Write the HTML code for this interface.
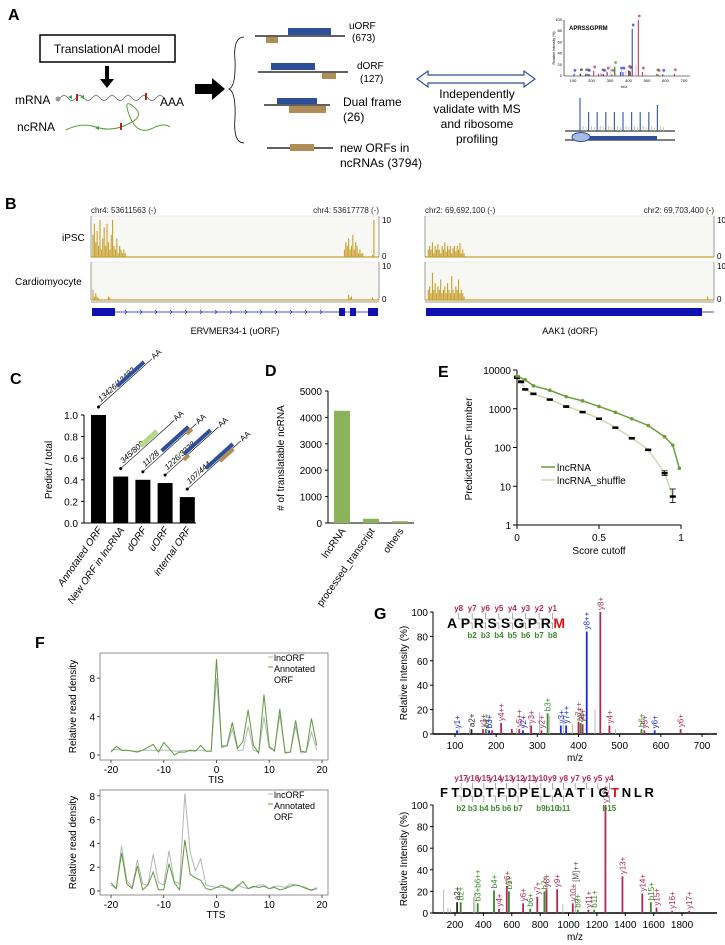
<!DOCTYPE html>
<html><head><meta charset="utf-8"><style>
body{margin:0;background:#fff}
svg text{font-family:"Liberation Sans",sans-serif}
</style></head><body>
<svg id="fig" xmlns="http://www.w3.org/2000/svg" width="725" height="940" viewBox="0 0 725 940">
<rect width="725" height="940" fill="#fff"/>
<!-- Panel A -->
<g>
<text x="8" y="20" font-size="16" font-weight="bold">A</text>
<rect x="40" y="35" width="135" height="27" fill="#fff" stroke="#000" stroke-width="1.5"/>
<text x="107" y="53" font-size="12" text-anchor="middle">TranslationAI model</text>
<path d="M107 66 V80" stroke="#000" stroke-width="4"/>
<path d="M100 79 L114 79 L107 88 Z" fill="#000"/>
<text x="15" y="104" font-size="12">mRNA</text>
<text x="17" y="131" font-size="12">ncRNA</text>
<circle cx="58" cy="99" r="2.5" fill="#999"/>
<path d="M60 98 q4 -5 8 0 t8 0 t8 0 t8 0 t8 0 t8 0 t8 0 t8 0 t8 0 t8 0 t8 0 t8 0 t8 0" fill="none" stroke="#666" stroke-width="0.8"/>
<path d="M68 97 l4 -2 v4z" fill="#3a3"/><path d="M80 97 l4 -2 v4z" fill="#3a3"/>
<rect x="76" y="94" width="2" height="7" fill="#b22"/><rect x="145" y="93" width="2" height="7" fill="#b22"/>
<text x="160" y="106" font-size="12">AAA</text>
<path d="M66 130 q15 -8 30 -3 t30 -2 q20 -8 8 -18 q-12 -10 -4 10 q8 20 25 10 q10 -4 15 0" fill="none" stroke="#5a9a3a" stroke-width="1"/>
<path d="M95 128 l4 -2 v4z" fill="#3a3"/><rect x="120" y="123" width="2" height="7" fill="#b22"/>
<path d="M195 84 H212 V78 L225 89 L212 100 V94 H195 Z" fill="#000"/>
<path d="M244 37 Q233 37 235 60 Q236 86 229 89 Q236 92 235 118 Q233 143 244 143" fill="none" stroke="#000" stroke-width="0.8"/>
<g><line x1="255" y1="36" x2="345" y2="36" stroke="#000" stroke-width="1.2"/><rect x="288" y="28" width="43" height="7" fill="#2e4f9a"/><rect x="266" y="37" width="12" height="6" fill="#b08d57"/>
<text x="349" y="29" font-size="10">uORF</text><text x="352" y="41" font-size="10">(673)</text></g>
<g><line x1="258" y1="72" x2="348" y2="72" stroke="#000" stroke-width="1.2"/><rect x="271" y="63" width="44" height="7" fill="#2e4f9a"/><rect x="322" y="73" width="14" height="6" fill="#b08d57"/>
<text x="357" y="69" font-size="10">dORF</text><text x="360" y="82" font-size="10">(127)</text></g>
<g><line x1="264" y1="105" x2="330" y2="105" stroke="#000" stroke-width="1.2"/><rect x="277" y="98" width="40" height="6" fill="#2e4f9a"/><rect x="289" y="106" width="37" height="7" fill="#b08d57"/>
<text x="343" y="106" font-size="12">Dual frame</text><text x="343" y="121" font-size="12">(26)</text></g>
<g><line x1="267" y1="148" x2="333" y2="148" stroke="#000" stroke-width="1.2"/><rect x="290" y="144" width="24" height="7" fill="#b08d57"/>
<text x="340" y="152" font-size="12">new ORFs in</text><text x="340" y="167" font-size="12">ncRNAs (3794)</text></g>
<path d="M417 79 L428 71 V75 H524 V71 L535 79 L524 87 V83 H428 V87 Z" fill="#fff" stroke="#2e4f9a" stroke-width="1.2"/>
<g font-size="12" text-anchor="middle"><text x="477" y="98">Independently</text><text x="477" y="113">validate with MS</text><text x="477" y="128">and ribosome</text><text x="477" y="143">profiling</text></g>
<g id="thumb"><line x1="564" y1="20" x2="564" y2="76" stroke="#000" stroke-width="0.6"/><line x1="564" y1="76" x2="690" y2="76" stroke="#000" stroke-width="0.6"/>
<text x="555" y="48" font-size="3.5" transform="rotate(-90 555 48)" text-anchor="middle">Relative Intensity (%)</text>
<text x="624" y="88" font-size="4" text-anchor="middle">m/z</text></g>
<g id="ribo"><line x1="565" y1="131" x2="675" y2="131" stroke="#000"/><line x1="565" y1="140" x2="675" y2="140" stroke="#000"/><rect x="580" y="136" width="77" height="4" fill="#2e4f9a"/><ellipse cx="581" cy="137" rx="9" ry="4.5" fill="#a8bde0" stroke="#2e4f9a"/></g>
</g>
<!-- Panel B -->
<g id="panelB">
<text x="5" y="209" font-size="16" font-weight="bold">B</text>
<text x="62" y="241" font-size="10">iPSC</text>
<text x="15" y="285" font-size="10">Cardiomyocyte</text>
<g font-size="8" fill="#222"><text x="91" y="213">chr4: 53611563 (-)</text><text x="379" y="213" text-anchor="end">chr4: 53617778 (-)</text>
<text x="425" y="213">chr2: 69,692,100 (-)</text><text x="714" y="213" text-anchor="end">chr2: 69,703,400 (-)</text></g>
<text x="235" y="334" font-size="9" text-anchor="middle">ERVMER34-1 (uORF)</text>
<text x="570" y="334" font-size="9" text-anchor="middle">AAK1 (dORF)</text>
</g>
<!-- Panel C, D, E, F, G -->
<g id="panelC"><text x="10" y="384" font-size="16" font-weight="bold">C</text></g>
<g id="panelD"><text x="265" y="376" font-size="16" font-weight="bold">D</text></g>
<g id="panelE"><text x="438" y="377" font-size="16" font-weight="bold">E</text></g>
<g id="panelF"><text x="35" y="648" font-size="16" font-weight="bold">F</text></g>
<g id="panelG"><text x="374" y="619" font-size="16" font-weight="bold">G</text></g>
</svg>
<script>
const NS="http://www.w3.org/2000/svg";
function mk(tag,attrs,parent){const e=document.createElementNS(NS,tag);for(const k in attrs)e.setAttribute(k,attrs[k]);if(parent)parent.appendChild(e);return e;}
function txt(s,attrs,parent){const e=mk('text',attrs,parent);e.textContent=s;return e;}

// ---------- Panel B data ----------
const ipscLeftBins=[1,2,3,4,5,6,7,8,9,10,11,12,13,14,15,16,17,18,19,20,21,22,23,24,180,181,182,183,184,185,186,187,188,189,190,191,192,193,200,201];
const ipscLeftVals=[6,9,4,7,3,10,2,5,8,3,9,4,2,6,10,3,2,5,1,3,2,1,2,1,2,4,3,5,2,3,6,2,4,3,1,2,1,1,0.5,10];
const cardioLeftBins=[1,2,3,4,5,12,13,183,184,185,200];
const cardioLeftVals=[3,1,2,1,0.5,1,0.8,1.5,0.6,1,0.8];
const ipscRightBins=[2,3,4,5,6,7,8,9,10,11,12,13,14,15,16,17,18,19,20,21,22,23,24,25,26,27,28];
const ipscRightVals=[2,3,2,4,1,3,2,3.5,2,1,3,2,4,1.5,3,2,3,1,2.5,3,1.5,3,2,3.8,1,2,1];
const cardioRightBins=[2,3,4,5,6,7,8,9,10,11,12,13,14,15,16,17,18,19,20,21,22,23,24,25,26,27,28,205];
const cardioRightVals=[3,4,2,8,3,5,2,4,3,6,2,3,4,2,5,3,2,7,3,2,4,3,6,2,3,2,1,1];
const bMax=10;
(function(){
 const g=document.getElementById('panelB');
 const panels=[{x0:91,x1:379,ip:[ipscLeftBins,ipscLeftVals],cm:[cardioLeftBins,cardioLeftVals],nb:205,side:'left'},
               {x0:425,x1:714,ip:[ipscRightBins,ipscRightVals],cm:[cardioRightBins,cardioRightVals],nb:210,side:'right'}];
 panels.forEach(p=>{
  const tracks=[{top:216,base:257,d:p.ip,n:'ipsc'},{top:262,base:300,d:p.cm,n:'cardiomyocyte'}];
  tracks.forEach(t=>{
   const bg=mk('rect',{x:p.x0,y:t.top,width:p.x1-p.x0,height:t.base-t.top,fill:'#f7f7f4',stroke:'#ddd','stroke-width':0.5},g);
   
   
   const xs=b=>p.x0+b*(p.x1-p.x0)/p.nb;
   const ys=v=>t.base-v/bMax*(t.base-t.top-4);
   t.d[0].forEach((b,i)=>{
    const r=mk('rect',{x:xs(b),y:ys(t.d[1][i]),width:1.1,height:t.base-ys(t.d[1][i]),fill:'#c9a02e'},g);
    
    
   });
   mk('line',{x1:p.x0,y1:t.base,x2:p.x1,y2:t.base,stroke:'#c9a02e','stroke-width':1.2},g);
   mk('line',{x1:p.x0,y1:t.top,x2:p.x0,y2:t.base,stroke:'#888','stroke-width':0.8},g);
   mk('line',{x1:p.x1,y1:t.top,x2:p.x1,y2:t.base,stroke:'#888','stroke-width':0.8},g);
   txt('10',{x:p.x1+3,y:t.top+7,'font-size':8},g);
   txt('0',{x:p.x1+3,y:t.base+2,'font-size':8},g);
  });
  mk('line',{x1:p.x0,y1:302,x2:p.x1,y2:302,stroke:'#999','stroke-width':1},g);
 });
 const gl=mk('g',{},g);
 mk('line',{x1:92,y1:312,x2:378,y2:312,stroke:'#1818b0','stroke-width':0.8},gl);
 [[92,115],[339,345],[350,356],[368,378]].forEach(e=>mk('rect',{x:e[0],y:308,width:e[1]-e[0],height:8,fill:'#1010b0'},gl));
 for(let x=125;x<335;x+=15)mk('path',{d:`M${x} 310 l2 2 l-2 2`,fill:'none',stroke:'#1818b0','stroke-width':0.6},gl);
 const gr=mk('g',{},g);
 mk('rect',{x:426,y:308,width:276,height:8,fill:'#1010b0'},gr);
 mk('line',{x1:702,y1:312,x2:714,y2:312,stroke:'#1818b0','stroke-width':0.8},gr);
})();

// ---------- Panel C ----------
const cCats=['Annotated ORF','New ORF in lncRNA','dORF','uORF','internal ORF'];
const cVals=[1.0,0.43,0.40,0.37,0.24];
const cFrac=['13426/13482','345/803','11/28','1226/3328','107/444'];
const cTicks=[0.0,0.2,0.4,0.6,0.8,1.0];
(function(){
 const g=document.getElementById('panelC');
 const yC=v=>523-v*108, x0=89, bw=15, step=22.2;
 const xC=i=>x0+2+i*step;
 mk('line',{x1:84,y1:yC(1),x2:84,y2:523,stroke:'#000'},g);
 mk('line',{x1:84,y1:523,x2:196,y2:523,stroke:'#000'},g);
 cTicks.forEach(t=>{mk('line',{x1:81,y1:yC(t),x2:84,y2:yC(t),stroke:'#000'},g);txt(t.toFixed(1),{x:78,y:yC(t)+4,'font-size':10,'text-anchor':'end'},g);});
 txt('Predict / total',{x:0,y:0,'font-size':10,transform:'translate(52,470) rotate(-90)','text-anchor':'middle'},g);
 const second=[null,'#b5d98a','#b08d57','#b08d57','#b08d57'];
 const secOff=[0,8,30,-4,15];
 cVals.forEach((v,i)=>{
  const b=mk('rect',{x:xC(i),y:yC(v),width:bw,height:523-yC(v),fill:'#000'},g);
  
  
  const l=txt(cCats[i],{x:0,y:0,'font-size':10,'font-style':'italic','text-anchor':'end',transform:`translate(${xC(i)+bw/2+4},530) rotate(-55)`},g);
  
  
  const a=mk('g',{transform:`translate(${xC(i)+bw/2},${yC(v)-8}) rotate(-42)`},g);
  
  
  mk('circle',{cx:0,cy:0,r:1.5,fill:'#000'},a);
  mk('line',{x1:0,y1:0,x2:72,y2:0,stroke:'#000','stroke-width':0.6},a);
  txt(cFrac[i],{x:5,y:-2,'font-size':8,'font-style':'italic'},a);
  if(i===1){mk('rect',{x:30,y:-6,width:22,height:5,fill:second[1]},a);}
  else{mk('rect',{x:28,y:-5,width:36,height:4,fill:'#2e4f9a'},a);
   if(second[i])mk('rect',{x:28+secOff[i],y:-1,width:i===4?18:7,height:4,fill:second[i]},a);}
  txt('AA',{x:73,y:2,'font-size':8},a);
 });
})();

// ---------- Panel D ----------
const dCats=['lncRNA','processed_transcript','others'];
const dVals=[4250,160,70];
const dTicks=[0,1000,2000,3000,4000,5000];
(function(){
 const g=document.getElementById('panelD');
 const yD=v=>523-v*132/5000;
 const xD=i=>334+i*29;
 mk('line',{x1:328,y1:yD(5000),x2:328,y2:523,stroke:'#000'},g);
 mk('line',{x1:328,y1:523,x2:414,y2:523,stroke:'#000'},g);
 dTicks.forEach(t=>{mk('line',{x1:325,y1:yD(t),x2:328,y2:yD(t),stroke:'#000'},g);txt(String(t),{x:322,y:yD(t)+4,'font-size':10,'text-anchor':'end'},g);});
 txt('# of translatable ncRNA',{x:0,y:0,'font-size':10,transform:'translate(284,458) rotate(-90)','text-anchor':'middle'},g);
 dVals.forEach((v,i)=>{
  const b=mk('rect',{x:xD(i),y:yD(v),width:16,height:523-yD(v),fill:'#8ab35a'},g);
  
  
  const l=txt(dCats[i],{x:0,y:0,'font-size':10,'text-anchor':'end',transform:`translate(${xD(i)+12},531) rotate(-55)`},g);
  
  
 });
})();

// ---------- Panel E ----------
const eCut=[0,0.05,0.1,0.2,0.3,0.4,0.5,0.6,0.7,0.8,0.9,0.95,0.99];
const eLnc=[7000,5600,3900,3000,2050,1600,1150,810,550,370,190,115,29];
const eShufCut=[0,0.025,0.05,0.1,0.2,0.3,0.4,0.5,0.6,0.7,0.8,0.9,0.95];
const eShuf=[6500,5000,3200,2450,1750,1150,830,560,330,175,88,22,5.5];
const eErrLo=[6000,4700,3100,2350,1700,1100,800,540,320,170,85,19,3.8];
const eErrHi=[7000,5300,3300,2550,1800,1200,860,580,340,180,91,25,8.5];
const eYTicks=[1,10,100,1000,10000];
const eXTicks=[0,0.5,1];
(function(){
 const g=document.getElementById('panelE');
 const xE=c=>517+c*164, yE=v=>525-Math.log10(v)*38.75;
 mk('line',{x1:517,y1:yE(10000),x2:517,y2:525,stroke:'#000'},g);
 mk('line',{x1:517,y1:525,x2:681,y2:525,stroke:'#000'},g);
 eYTicks.forEach(t=>{mk('line',{x1:513,y1:yE(t),x2:517,y2:yE(t),stroke:'#000'},g);txt(String(t),{x:511,y:yE(t)+4,'font-size':10,'text-anchor':'end'},g);});
 eXTicks.forEach(t=>{mk('line',{x1:xE(t),y1:525,x2:xE(t),y2:529,stroke:'#000'},g);txt(String(t),{x:xE(t),y:541,'font-size':10,'text-anchor':'middle'},g);});
 txt('Score cutoff',{x:599,y:554,'font-size':10,'text-anchor':'middle'},g);
 txt('Predicted ORF number',{x:0,y:0,'font-size':10,transform:'translate(472,449) rotate(-90)','text-anchor':'middle'},g);
 const sh=mk('polyline',{points:eShufCut.map((c,i)=>xE(c)+','+yE(eShuf[i])).join(' '),fill:'none',stroke:'#c8dcb0','stroke-width':1.5},g);
 
 
 eShufCut.forEach((c,i)=>{
  mk('line',{x1:xE(c),y1:yE(eErrLo[i]),x2:xE(c),y2:yE(eErrHi[i]),stroke:'#000','stroke-width':0.8},g);
  mk('line',{x1:xE(c)-3,y1:yE(eErrLo[i]),x2:xE(c)+3,y2:yE(eErrLo[i]),stroke:'#000','stroke-width':0.8},g);
  mk('line',{x1:xE(c)-3,y1:yE(eErrHi[i]),x2:xE(c)+3,y2:yE(eErrHi[i]),stroke:'#000','stroke-width':0.8},g);
  const m=mk('rect',{x:xE(c)-3,y:yE(eShuf[i])-1,width:6,height:2.5,fill:'#000'},g);
  
  
 });
 const ln=mk('polyline',{points:eCut.map((c,i)=>xE(c)+','+yE(eLnc[i])).join(' '),fill:'none',stroke:'#6a9e3a','stroke-width':1.5},g);
 
 
 eCut.forEach((c,i)=>{const p=mk('circle',{cx:xE(c),cy:yE(eLnc[i]),r:1.8,fill:'#6a9e3a'},g);
  
  });
 const lg=mk('g',{},g);
 mk('line',{x1:541,y1:467,x2:555,y2:467,stroke:'#6a9e3a','stroke-width':1.5},lg);
 txt('lncRNA',{x:557,y:471,'font-size':10},lg);
 mk('line',{x1:541,y1:480,x2:555,y2:480,stroke:'#c8dcb0','stroke-width':1.5},lg);
 txt('lncRNA_shuffle',{x:557,y:484,'font-size':10},lg);
})();

// ---------- Panel F ----------
const fPos=[-20,-19,-18,-17,-16,-15,-14,-13,-12,-11,-10,-9,-8,-7,-6,-5,-4,-3,-2,-1,0,1,2,3,4,5,6,7,8,9,10,11,12,13,14,15,16,17,18,19];
const tisAnnot=[0.3,0.9,0.5,0.5,0.4,0.3,0.5,0.8,1.1,0.3,1.3,0.7,0.0,0.3,0.3,0.5,0.4,1.0,0.4,0.4,10.0,0.8,1.0,3.4,0.7,1.4,4.7,1.0,0.2,6.3,0.9,0.4,4.8,0.2,0.3,3.6,0.4,0.3,3.8,1.0];
const tisLnc=[0.5,0.6,0.5,0.5,0.4,0.4,0.5,0.5,0.5,0.5,0.5,0.5,0.4,0.4,0.5,0.4,0.5,0.5,0.4,0.4,8.0,1.0,0.9,2.7,0.5,0.5,3.0,0.5,0.3,4.0,0.7,0.5,4.2,0.3,0.3,3.0,0.2,0.3,2.4,0.5];
const ttsLnc=[0.5,0.2,3.8,0.9,0.3,2.6,0.6,0.5,3.1,0.7,0.5,3.4,0.8,0.6,8.2,3.3,1.7,2.7,0.5,0.4,0.3,0.3,0.3,0.1,0.5,0.3,0.2,0.3,0.5,0.5,0.2,0.4,0.4,0.3,0.6,0.5,0.4,0.3,0.0,0.3];
const ttsAnnot=[0.7,0.2,3.2,0.6,0.2,2.1,0.1,0.5,1.6,0.1,0.1,2.3,0.7,0.1,4.3,1.4,1.1,0.9,0.2,0.1,0.3,0.5,0.2,0.0,0.4,0.8,0.2,0.4,0.3,0.4,0.2,0.3,0.1,0.2,0.4,0.5,0.4,0.2,0.1,0.2];
const fXTicks=[-20,-10,0,10,20];
const tisYTicks=[0,4,8];
const ttsYTicks=[0,2,4,6,8];
(function(){
 const g=document.getElementById('panelF');
 const xF=p=>111+(p+20)*5.275;
 const plots=[{top:653,bot:760,y0:755,k:9.6,ticks:tisYTicks,lab:'TIS',lnc:tisLnc,ann:tisAnnot,n:'tis'},
              {top:790,bot:895,y0:891,k:11.9,ticks:ttsYTicks,lab:'TTS',lnc:ttsLnc,ann:ttsAnnot,n:'tts'}];
 plots.forEach(p=>{
  const box=mk('rect',{x:100,y:p.top,width:228,height:p.bot-p.top,fill:'#fff',stroke:'#777','stroke-width':0.8},g);
  
  
  const yF=v=>p.y0-v*p.k;
  p.ticks.forEach(t=>{mk('line',{x1:97,y1:yF(t),x2:100,y2:yF(t),stroke:'#555'},g);txt(String(t),{x:95,y:yF(t)+4,'font-size':10,'text-anchor':'end'},g);});
  fXTicks.forEach(t=>{mk('line',{x1:xF(t),y1:p.bot,x2:xF(t),y2:p.bot+3,stroke:'#555'},g);txt(String(t),{x:xF(t),y:p.bot+13,'font-size':10,'text-anchor':'middle'},g);});
  txt(p.lab,{x:216,y:p.bot+23,'font-size':10,'text-anchor':'middle'},g);
  txt('Relative read density',{x:0,y:0,'font-size':10,'text-anchor':'middle',transform:`translate(76,${(p.top+p.bot)/2}) rotate(-90)`},g);
  const l1=mk('polyline',{points:fPos.map((x,i)=>xF(x)+','+yF(p.lnc[i])).join(' '),fill:'none',stroke:'#b5b5b5','stroke-width':1},g);
  
  
  const l2=mk('polyline',{points:fPos.map((x,i)=>xF(x)+','+yF(p.ann[i])).join(' '),fill:'none',stroke:'#5e9a3e','stroke-width':1},g);
  
  
  const lg=mk('g',{},g);
  mk('line',{x1:268,y1:p.top+4,x2:273,y2:p.top+4,stroke:'#b5b5b5'},lg);
  mk('line',{x1:268,y1:p.top+14,x2:273,y2:p.top+14,stroke:'#5e9a3e'},lg);
  txt('lncORF',{x:274,y:p.top+8,'font-size':9},lg);
  txt('Annotated',{x:274,y:p.top+19,'font-size':9},lg);
  txt('ORF',{x:274,y:p.top+30,'font-size':9},lg);
 });
})();

// ---------- Panel G ----------
const g1Mz=[105,110,135,140,168,175,180,183,190,212,238,250,256,265,282,285,305,310,325,330,357,363,370,385,400,405,410,420,440,453,475,490,553,560,585,648,720];
const g1Int=[3,6,5,4,4,4,5,3,3,9,4,5,4,3,10,7,18,3,17,15,7,15,7,8,10,9,8,84,20,100,7,4,4,3,3,4,2];
const g1Col=['b','g','g','k','r','gr','g','b','r','r','r','g','r','b','g','r','g','r','gr','g','b','g','b','g','r','gr','r','b','g','r','r','g','gr','r','b','r','g'];
const g1Lab=['y1+','','','a2+','y1+','b2+','','b3+','','y4++','','','y5++','y2+','','y3+','','y2+','b3+','','y3+','','y7++','','y7++','b8+','y4+','y8++','','y8+','y4+','','b6+','y5+','y6+','y6+',''];
const g1XTicks=[100,200,300,400,500,600,700];
const g2Mz=[120,150,170,215,240,330,340,360,470,475,510,565,580,680,730,780,830,845,920,960,1030,1050,1065,1140,1180,1260,1380,1520,1580,1620,1730,1850];
const g2Int=[22,5,4,10,10,15,20,9,8,21,4,25,20,9,4,15,20,22,22,8,9,27,3,3,3,100,34,18,10,5,2,2];
const g2Col=['g','g','g','k','gr','g','g','gr','g','gr','r','r','gr','r','gr','r','gr','r','r','g','r','g','gr','r','gr','r','r','r','gr','r','r','r'];
const g2Lab=['','','','a2+','b2+','','','b3+b6++','','b4+','y4+','y6+','b5+','y6+','b6+','y7+','b7+','y8+','y9+','','y10+','[M]++','b9+','y11+','b11+','y12+','y13+','y14+','b15+','y15+','y16+','y17+'];
const g2XTicks=[200,400,600,800,1000,1200,1400,1600,1800];
const gYTicks=[0,20,40,60,80,100];
const thumbXTicks=[100,200,300,400,500,600,700];
const riboHeights=[33,19,19,19,19,19,19,19,19,26];
const colMap={r:'#b0285a',g:'#aaaaaa',gr:'#3a8a2a',b:'#1a2ad8',k:'#222'};
(function(){
 const g=document.getElementById('panelG');
 const specs=[{mz:g1Mz,it:g1Int,c:g1Col,lb:g1Lab,xt:g1XTicks,x:m=>455+(m-100)*0.4117,y0:734,k:1.22,n:'spectrum-1'},
              {mz:g2Mz,it:g2Int,c:g2Col,lb:g2Lab,xt:g2XTicks,x:m=>455+(m-200)*0.1419,y0:913,k:1.08,n:'spectrum-2'}];
 specs.forEach(s=>{
  const yG=v=>s.y0-v*s.k;
  mk('line',{x1:433,y1:yG(100),x2:433,y2:s.y0,stroke:'#000'},g);
  mk('line',{x1:433,y1:s.y0,x2:717,y2:s.y0,stroke:'#000','stroke-width':1.5},g);
  gYTicks.forEach(t=>{mk('line',{x1:430,y1:yG(t),x2:433,y2:yG(t),stroke:'#000'},g);txt(String(t),{x:428,y:yG(t)+4,'font-size':10,'text-anchor':'end'},g);});
  s.xt.forEach(t=>{mk('line',{x1:s.x(t),y1:s.y0,x2:s.x(t),y2:s.y0+3,stroke:'#000'},g);txt(String(t),{x:s.x(t),y:s.y0+15,'font-size':10,'text-anchor':'middle'},g);});
  txt('m/z',{x:575,y:s.y0+27,'font-size':10,'text-anchor':'middle'},g);
  txt('Relative Intensity (%)',{x:0,y:0,'font-size':10,'text-anchor':'middle',transform:`translate(407,${(yG(100)+s.y0)/2}) rotate(-90)`},g);
  s.mz.forEach((m,i)=>{
   const col=colMap[s.c[i]];
   const w=(s.c[i]==='g')?0.8:1.8;
   const pk=mk('line',{x1:s.x(m),y1:s.y0,x2:s.x(m),y2:yG(s.it[i]),stroke:col,'stroke-width':w},g);
   
   
   if(s.lb[i]){const lc=s.c[i]==='g'?'#555':col;
    txt(s.lb[i],{x:0,y:0,'font-size':8,fill:lc,transform:`translate(${s.x(m)+3},${yG(s.it[i])-2}) rotate(-90)`},g);}
  });
 });
 function seq(letters,x0,step,y,redIdx,yl,bl,yy,by,fs,name){
  const sg=mk('g',{},g);
  
  
  letters.forEach((L,i)=>{txt(L,{x:x0+i*step,y:y,'font-size':fs,'font-weight':'bold','text-anchor':'middle',fill:i===redIdx?'#e01010':'#000'},sg);});
  yl.forEach(p=>{const xi=x0+(p[0]-0.5)*step;txt(p[1],{x:xi,y:yy,'font-size':8,'font-weight':'bold',fill:'#b0285a','text-anchor':'middle'},sg);
    mk('path',{d:`M${xi} ${yy+2} v6 h${step*0.45}`,fill:'none',stroke:'#777','stroke-width':0.6},sg);});
  bl.forEach(p=>{const xi=x0+(p[0]-0.5)*step;txt(p[1],{x:xi,y:by,'font-size':8,'font-weight':'bold',fill:'#3a8a2a','text-anchor':'middle'},sg);
    mk('path',{d:`M${xi} ${by-9} v-6 h${-step*0.45}`,fill:'none',stroke:'#777','stroke-width':0.6},sg);});
 }
 seq(['A','P','R','S','S','G','P','R','M'],452,13.4,628,8,
  [[1,'y8'],[2,'y7'],[3,'y6'],[4,'y5'],[5,'y4'],[6,'y3'],[7,'y2'],[8,'y1']],
  [[2,'b2'],[3,'b3'],[4,'b4'],[5,'b5'],[6,'b6'],[7,'b7'],[8,'b8']],611,638,14,'peptide-sequence-1');
 seq('FTDDTFDPELAATIGTNLR'.split(''),444,11.4,797,15,
  [[2,'y17'],[3,'y16'],[4,'y15'],[5,'y14'],[6,'y13'],[7,'y12'],[8,'y11'],[9,'y10'],[10,'y9'],[11,'y8'],[12,'y7'],[13,'y6'],[14,'y5'],[15,'y4']],
  [[2,'b2'],[3,'b3'],[4,'b4'],[5,'b5'],[6,'b6'],[7,'b7'],[9,'b9'],[10,'b10'],[11,'b11'],[15,'b15']],781,811,13,'peptide-sequence-2');
 // thumbnail in panel A reuses spectrum 1
 const th=document.getElementById('thumb');
 const tx=m=>573+(m-100)*0.185;
 thumbXTicks.forEach(t=>txt(String(t),{x:tx(t),y:82,'font-size':4,'text-anchor':'middle'},th));
 [0,20,40,60,80,100].forEach(t=>txt(String(t),{x:562,y:77-t*0.56,'font-size':4,'text-anchor':'end'},th));
 g1Mz.forEach((m,i)=>{const x=tx(m);const h=g1Int[i]*0.56;
  const pk=mk('line',{x1:x,y1:76,x2:x,y2:76-h,stroke:colMap[g1Col[i]],'stroke-width':(g1Col[i]==='g'?0.6:1)},th);
  
  
  if(g1Lab[i])mk('circle',{cx:x+1,cy:76-h-4,r:1.4,fill:colMap[g1Col[i]],opacity:0.7},th);});
 txt('APRSSGPRM',{x:569,y:30,'font-size':6,'font-weight':'bold'},th);
 // ribosome profiling spikes
 const rb=document.getElementById('ribo');
 riboHeights.forEach((h,i)=>{const x=580+i*8.6;const s=mk('line',{x1:x,y1:131,x2:x,y2:131-h,stroke:'#4060c0','stroke-width':1.2},rb);
  
  
  mk('line',{x1:x+3,y1:131,x2:x+3,y2:126,stroke:'#c8b080','stroke-width':0.8},rb);
  mk('line',{x1:x+6,y1:131,x2:x+6,y2:127,stroke:'#b8d090','stroke-width':0.8},rb);});
})();
</script>
</body></html>
